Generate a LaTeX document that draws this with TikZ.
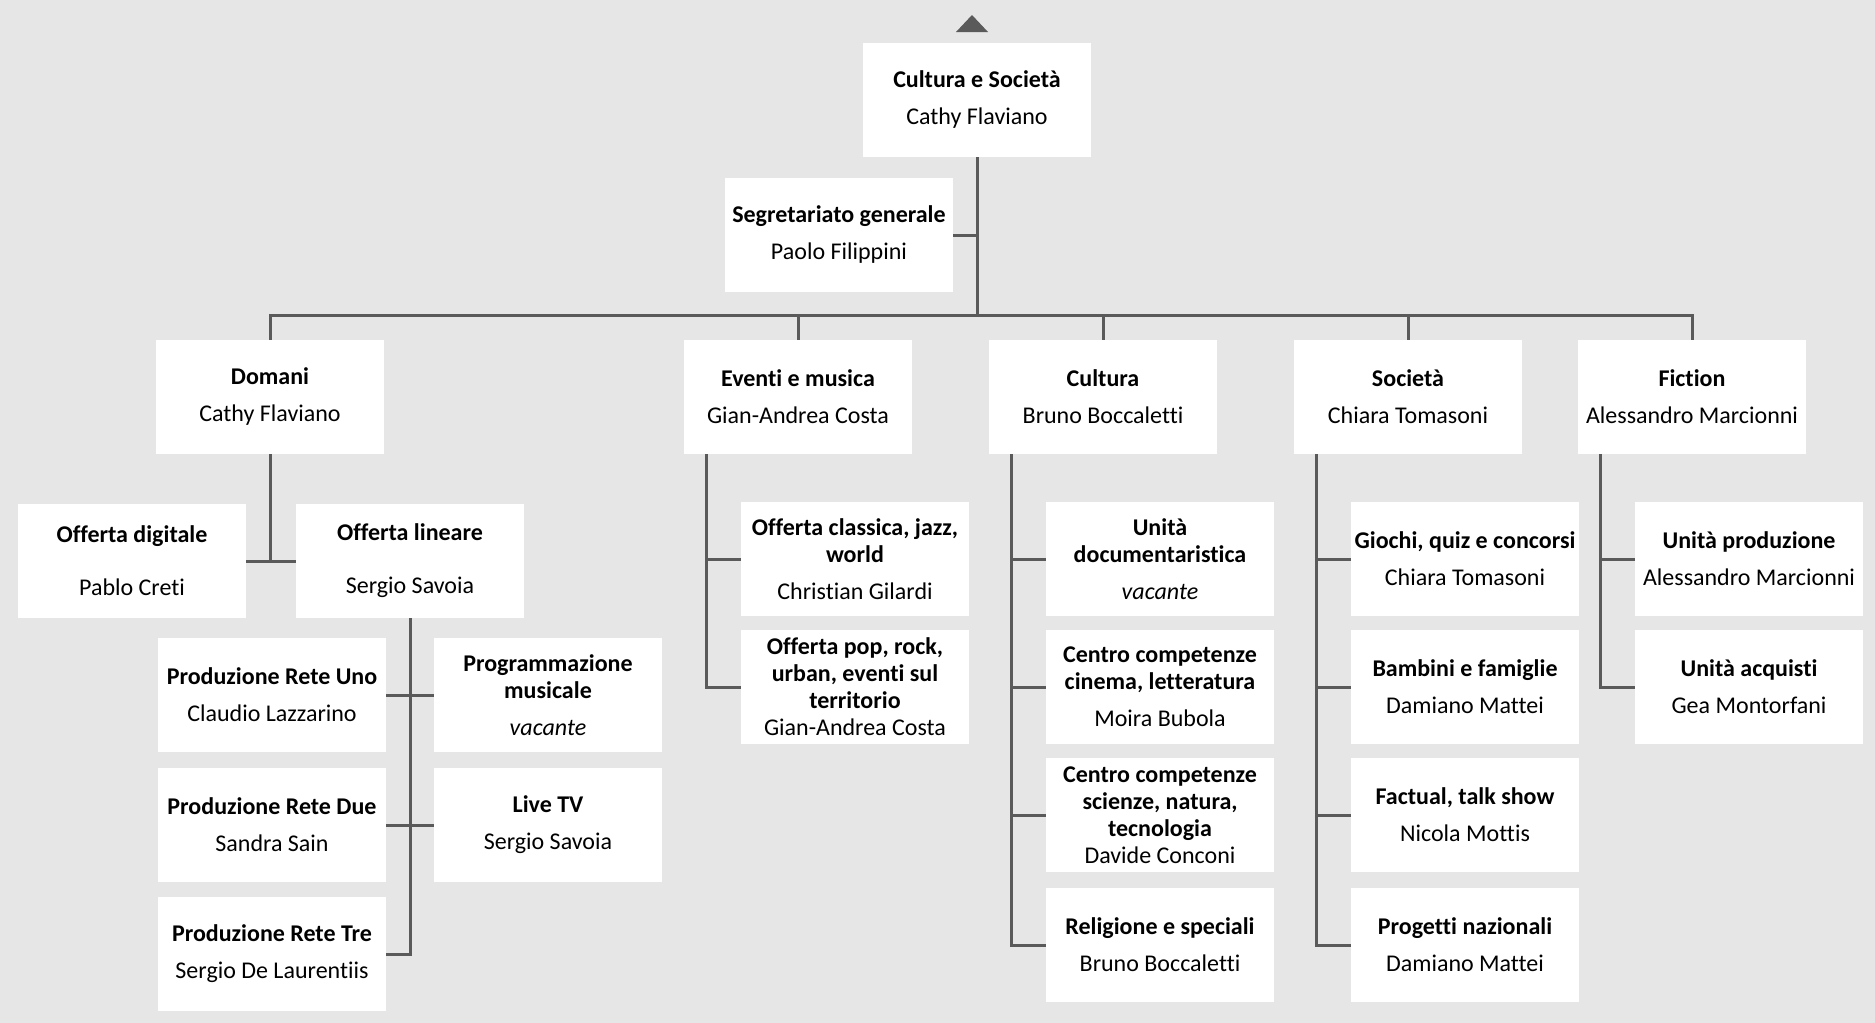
\documentclass[tikz,border=0pt]{standalone}
\usepackage{fontspec}
\setmainfont{Carlito}[Ligatures=NoCommon]
\definecolor{bg}{HTML}{E6E6E6}
\definecolor{ln}{HTML}{5A5A5A}
\tikzset{
  box/.style={fill=white, draw=none, minimum width=114pt, minimum height=57pt, inner sep=0pt, align=center, font=\fontsize{12}{13.5}\selectfont, text=black},
  conn/.style={draw=ln, line width=1.5pt}
}
\newcommand{\tn}[2]{\textbf{#1}\\[5pt]#2}
\begin{document}
\begin{tikzpicture}[x=0.5pt,y=-0.5pt]
\fill[bg] (0,0) rectangle (1875,1023);
\useasboundingbox (0,0) rectangle (1875,1023);
% triangle
\fill[ln] (956,32) -- (972,15) -- (988,32) -- cycle;
% top
\node[box] (cs) at (977,100) {\tn{Cultura e Società}{Cathy Flaviano}};
\node[box] (seg) at (839,235) {\tn{Segretariato generale}{Paolo Filippini}};
\coordinate (bus) at (977,315);
% level 1
\node[box] (dom) at (270,397) {\tn{Domani}{Cathy Flaviano}};
\node[box] (eve) at (798,397) {\tn{Eventi e musica}{Gian-Andrea Costa}};
\node[box] (cul) at (1103,397) {\tn{Cultura}{Bruno Boccaletti}};
\node[box] (soc) at (1408,397) {\tn{Società}{Chiara Tomasoni}};
\node[box] (fic) at (1692,397) {\tn{Fiction}{Alessandro Marcionni}};
% Domani children
\node[box] (dig) at (132,561) {\textbf{Offerta digitale}\\[13pt]Pablo Creti};
\node[box] (lin) at (410,561) {\textbf{Offerta lineare}\\[13pt]Sergio Savoia};
\node[box] (p1) at (272,695) {\tn{Produzione Rete Uno}{Claudio Lazzarino}};
\node[box] (p2) at (272,825) {\tn{Produzione Rete Due}{Sandra Sain}};
\node[box] (p3) at (272,954) {\tn{Produzione Rete Tre}{Sergio De Laurentiis}};
\node[box] (pm) at (548,695) {\textbf{Programmazione}\\\textbf{musicale}\\[5pt]\textit{vacante}};
\node[box] (live) at (548,825) {\tn{Live TV}{Sergio Savoia}};
% Eventi children
\node[box] (ev1) at (855,559) {\textbf{Offerta classica, jazz,}\\\textbf{world}\\[5pt]Christian Gilardi};
\node[box] (ev2) at (855,687) {\textbf{Offerta pop, rock,}\\\textbf{urban, eventi sul}\\\textbf{territorio}\\Gian-Andrea Costa};
% Cultura children
\node[box] (cu1) at (1160,559) {\textbf{Unità}\\\textbf{documentaristica}\\[5pt]\textit{vacante}};
\node[box] (cu2) at (1160,687) {\textbf{Centro competenze}\\\textbf{cinema, letteratura}\\[5pt]Moira Bubola};
\node[box] (cu3) at (1160,815) {\textbf{Centro competenze}\\\textbf{scienze, natura,}\\\textbf{tecnologia}\\Davide Conconi};
\node[box] (cu4) at (1160,945) {\tn{Religione e speciali}{Bruno Boccaletti}};
% Società children
\node[box] (so1) at (1465,559) {\tn{Giochi, quiz e concorsi}{Chiara Tomasoni}};
\node[box] (so2) at (1465,687) {\tn{Bambini e famiglie}{Damiano Mattei}};
\node[box] (so3) at (1465,815) {\tn{Factual, talk show}{Nicola Mottis}};
\node[box] (so4) at (1465,945) {\tn{Progetti nazionali}{Damiano Mattei}};
% Fiction children
\node[box] (fi1) at (1749,559) {\tn{Unità produzione}{Alessandro Marcionni}};
\node[box] (fi2) at (1749,687) {\tn{Unità acquisti}{Gea Montorfani}};
% connectors
\draw[conn] (cs.south) -- (bus);
\draw[conn] (seg.east) -- (seg.east -| cs.south);
\draw[conn] (dom.north) |- (bus) -| (fic.north);
\draw[conn] (eve.north) -- (eve.north |- bus);
\draw[conn] (cul.north) -- (cul.north |- bus);
\draw[conn] (soc.north) -- (soc.north |- bus);
\draw[conn] (dom.south) |- (dig.east);
\draw[conn] (dom.south) |- (lin.west);
\draw[conn] (lin.south) |- (p3.east);
\draw[conn] (lin.south) |- (p1.east);
\draw[conn] (lin.south) |- (p2.east);
\draw[conn] (lin.south) |- (pm.west);
\draw[conn] (lin.south) |- (live.west);
\coordinate (evt) at ([xshift=11.5pt]eve.south west);
\draw[conn] (evt) |- (ev1.west);
\draw[conn] (evt) |- (ev2.west);
\coordinate (cut) at ([xshift=11.5pt]cul.south west);
\draw[conn] (cut) |- (cu1.west);
\draw[conn] (cut) |- (cu2.west);
\draw[conn] (cut) |- (cu3.west);
\draw[conn] (cut) |- (cu4.west);
\coordinate (sot) at ([xshift=11.5pt]soc.south west);
\draw[conn] (sot) |- (so1.west);
\draw[conn] (sot) |- (so2.west);
\draw[conn] (sot) |- (so3.west);
\draw[conn] (sot) |- (so4.west);
\coordinate (fit) at ([xshift=11.5pt]fic.south west);
\draw[conn] (fit) |- (fi1.west);
\draw[conn] (fit) |- (fi2.west);
\end{tikzpicture}
\end{document}
